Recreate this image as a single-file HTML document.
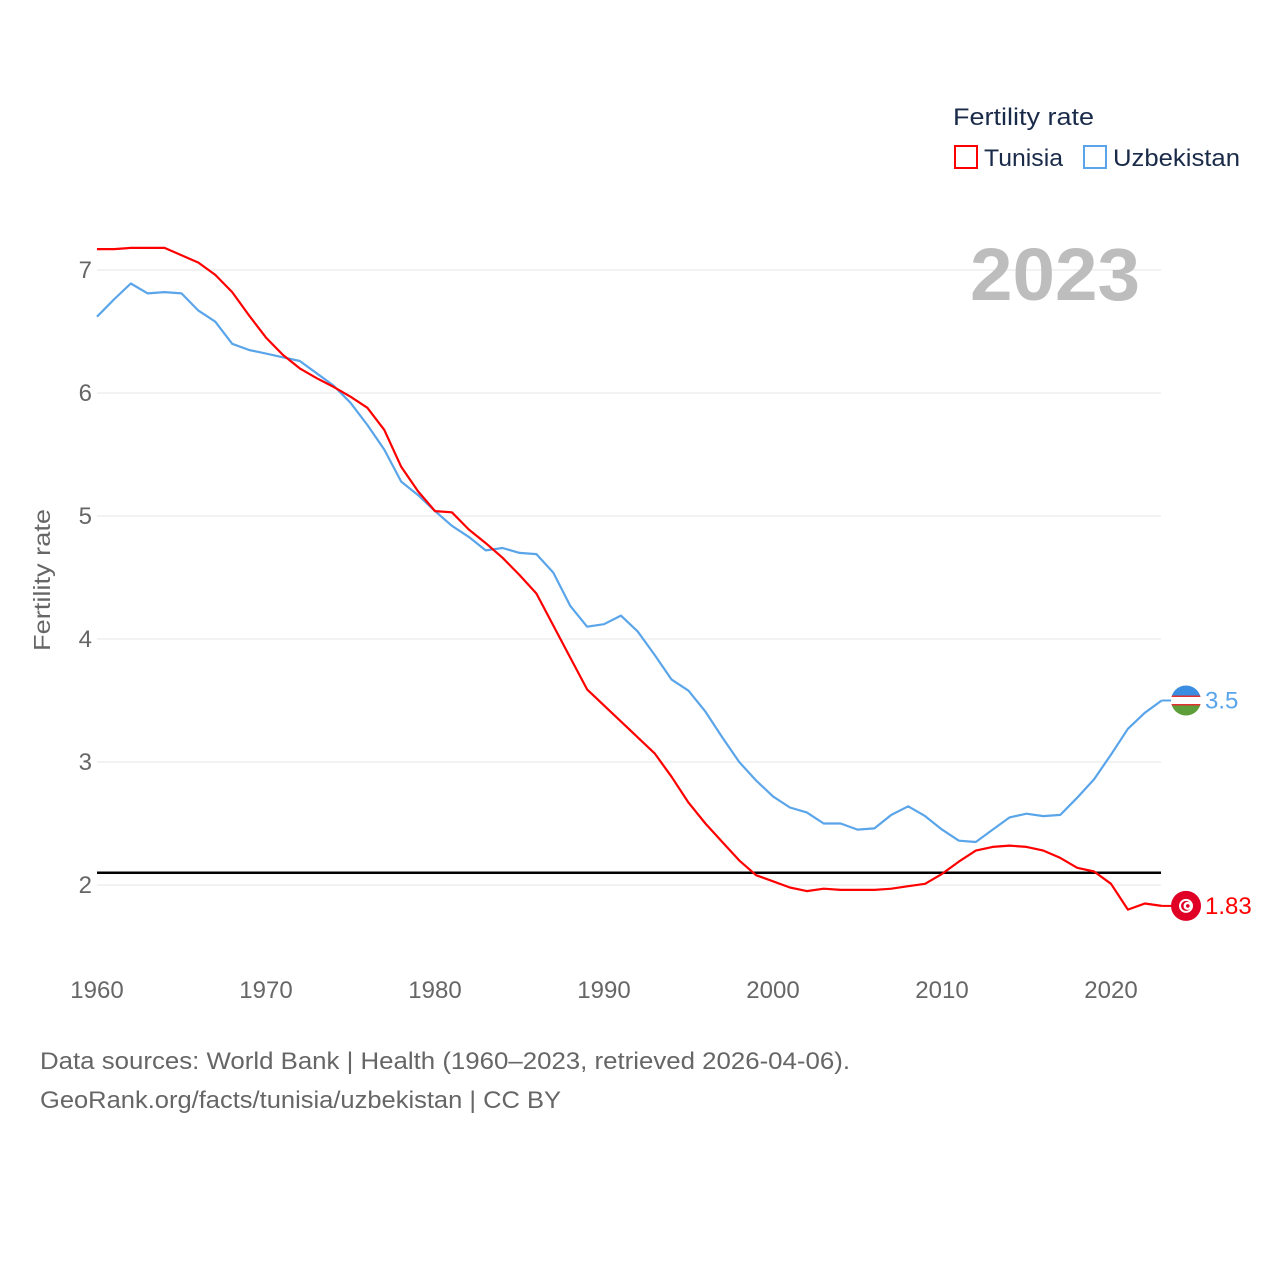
<!DOCTYPE html>
<html><head><meta charset="utf-8"><style>
body{margin:0;background:#fff;font-family:"Liberation Sans",sans-serif;}
svg text{font-family:"Liberation Sans",sans-serif;}
</style></head><body>
<svg id="chart" width="1280" height="1280" viewBox="0 0 1280 1280" xmlns="http://www.w3.org/2000/svg">
<rect width="1280" height="1280" fill="#fff"/>
<g id="grid"></g>
<g id="yticks"></g>
<g id="xticks"></g>
<text x="50" y="580" transform="rotate(-90 50 580)" text-anchor="middle" font-size="23" fill="#666" textLength="142" lengthAdjust="spacingAndGlyphs">Fertility rate</text>
<text x="970" y="300" font-size="74" font-weight="bold" fill="#bdbdbd" textLength="170" lengthAdjust="spacingAndGlyphs">2023</text>
<g>
<text x="953" y="125" font-size="24" fill="#1a2b4a" textLength="141" lengthAdjust="spacingAndGlyphs">Fertility rate</text>
<rect x="955" y="146" width="22" height="22" fill="none" stroke="#ff0000" stroke-width="2"/>
<text x="984" y="166" font-size="24" fill="#1a2b4a" textLength="79" lengthAdjust="spacingAndGlyphs">Tunisia</text>
<rect x="1084" y="146" width="22" height="22" fill="none" stroke="#5aa5ea" stroke-width="2"/>
<text x="1113" y="166" font-size="24" fill="#1a2b4a" textLength="127" lengthAdjust="spacingAndGlyphs">Uzbekistan</text>
</g>
<g id="series"></g>
<g id="ends"></g>
<text x="40" y="1069" font-size="24" fill="#666" textLength="810" lengthAdjust="spacingAndGlyphs">Data sources: World Bank | Health (1960–2023, retrieved 2026-04-06).</text>
<text x="40" y="1108" font-size="24" fill="#666" textLength="521" lengthAdjust="spacingAndGlyphs">GeoRank.org/facts/tunisia/uzbekistan | CC BY</text>
</svg>
<script>
const years=[];for(let y=1960;y<=2023;y++)years.push(y);
const tunisia=[7.17,7.17,7.18,7.18,7.18,7.12,7.06,6.96,6.82,6.63,6.45,6.31,6.20,6.12,6.05,5.97,5.88,5.70,5.40,5.20,5.04,5.03,4.89,4.78,4.66,4.52,4.37,4.11,3.85,3.59,3.46,3.33,3.20,3.07,2.88,2.67,2.50,2.35,2.20,2.08,2.03,1.98,1.95,1.97,1.96,1.96,1.96,1.97,1.99,2.01,2.09,2.19,2.28,2.31,2.32,2.31,2.28,2.22,2.14,2.11,2.01,1.80,1.85,1.83];
const uzbekistan=[6.62,6.76,6.89,6.81,6.82,6.81,6.67,6.58,6.40,6.35,6.32,6.29,6.26,6.16,6.06,5.92,5.74,5.54,5.28,5.17,5.04,4.92,4.83,4.72,4.74,4.70,4.69,4.54,4.27,4.10,4.12,4.19,4.06,3.87,3.67,3.58,3.41,3.20,3.00,2.85,2.72,2.63,2.59,2.50,2.50,2.45,2.46,2.57,2.64,2.56,2.45,2.36,2.35,2.45,2.55,2.58,2.56,2.57,2.71,2.86,3.06,3.27,3.40,3.50];
const yTicks=[2,3,4,5,6,7];
const xTicks=[1960,1970,1980,1990,2000,2010,2020];
const replacementRate=[2.1];
const NS="http://www.w3.org/2000/svg";
const xs=y=>97+(y-1960)*(1111-97)/60;
const ys=v=>885-(v-2)*123;
function mk(tag,attrs,parent){const e=document.createElementNS(NS,tag);for(const k in attrs)e.setAttribute(k,attrs[k]);parent.appendChild(e);return e;}
const grid=document.getElementById('grid'),yt=document.getElementById('yticks'),xt=document.getElementById('xticks');
yTicks.forEach(v=>{
 const l=mk('line',{x1:97,x2:1161,y1:ys(v),y2:ys(v),stroke:'#e6e6e6','stroke-width':1},grid);
 
 
 const t=mk('text',{x:92,y:ys(v)+8,'text-anchor':'end','font-size':24,fill:'#666'},yt);
 t.textContent=v;
 
 
});
xTicks.forEach(v=>{
 const t=mk('text',{x:xs(v),y:998,'text-anchor':'middle','font-size':24,fill:'#666'},xt);
 t.textContent=v;
 
 
});
const ser=document.getElementById('series');
replacementRate.forEach(v=>{
 const l=mk('line',{x1:97,x2:1161,y1:ys(v),y2:ys(v),stroke:'#000','stroke-width':2.5},ser);
 
 
});
function line(vals,color,name){
 const d=vals.map((v,i)=>(i?'L':'M')+xs(years[i]).toFixed(1)+' '+ys(v).toFixed(1)).join(' ');
 const p=mk('path',{d:d,fill:'none',stroke:color,'stroke-width':2.2,'stroke-linejoin':'round'},ser);
 
 
}
line(uzbekistan,'#5aa5ea','line-uzbekistan');
line(tunisia,'#ff0000','line-tunisia');
const ends=document.getElementById('ends');
function endLabel(vals,color,name,flag){
 const v=vals[vals.length-1],y=ys(v),x0=xs(years[years.length-1]);
 const c=mk('line',{x1:x0,x2:1172,y1:y,y2:y,stroke:color,'stroke-width':2},ends);
 
 
 const g=mk('g',{},ends);
 
 
 flag(g,1186,y);
 const t=mk('text',{x:1205,y:y+8,'font-size':24,fill:color},ends);
 t.textContent=String(v);
 
 
}
endLabel(uzbekistan,'#5aa5ea','uzbekistan',(g,cx,cy)=>{
 const cp=mk('clipPath',{id:'cu'},g);mk('circle',{cx:cx,cy:cy,r:15},cp);
 const gg=mk('g',{'clip-path':'url(#cu)'},g);
 mk('rect',{x:cx-15,y:cy-15,width:30,height:10,fill:'#3a8de0'},gg);
 mk('rect',{x:cx-15,y:cy-5,width:30,height:10,fill:'#fff'},gg);
 mk('rect',{x:cx-15,y:cy-5,width:30,height:1.5,fill:'#e03030'},gg);
 mk('rect',{x:cx-15,y:cy+3.5,width:30,height:1.5,fill:'#e03030'},gg);
 mk('rect',{x:cx-15,y:cy+5,width:30,height:10,fill:'#5e9e3a'},gg);
});
endLabel(tunisia,'#ff0000','tunisia',(g,cx,cy)=>{
 mk('circle',{cx:cx,cy:cy,r:15,fill:'#e00025'},g);
 mk('circle',{cx:cx,cy:cy,r:7,fill:'#fff'},g);
 mk('circle',{cx:cx,cy:cy,r:5,fill:'#e00025'},g);
 mk('circle',{cx:cx+1.5,cy:cy,r:4,fill:'#fff'},g);
 mk('circle',{cx:cx+1.8,cy:cy,r:1.8,fill:'#e00025'},g);
});
</script>
</body></html>
